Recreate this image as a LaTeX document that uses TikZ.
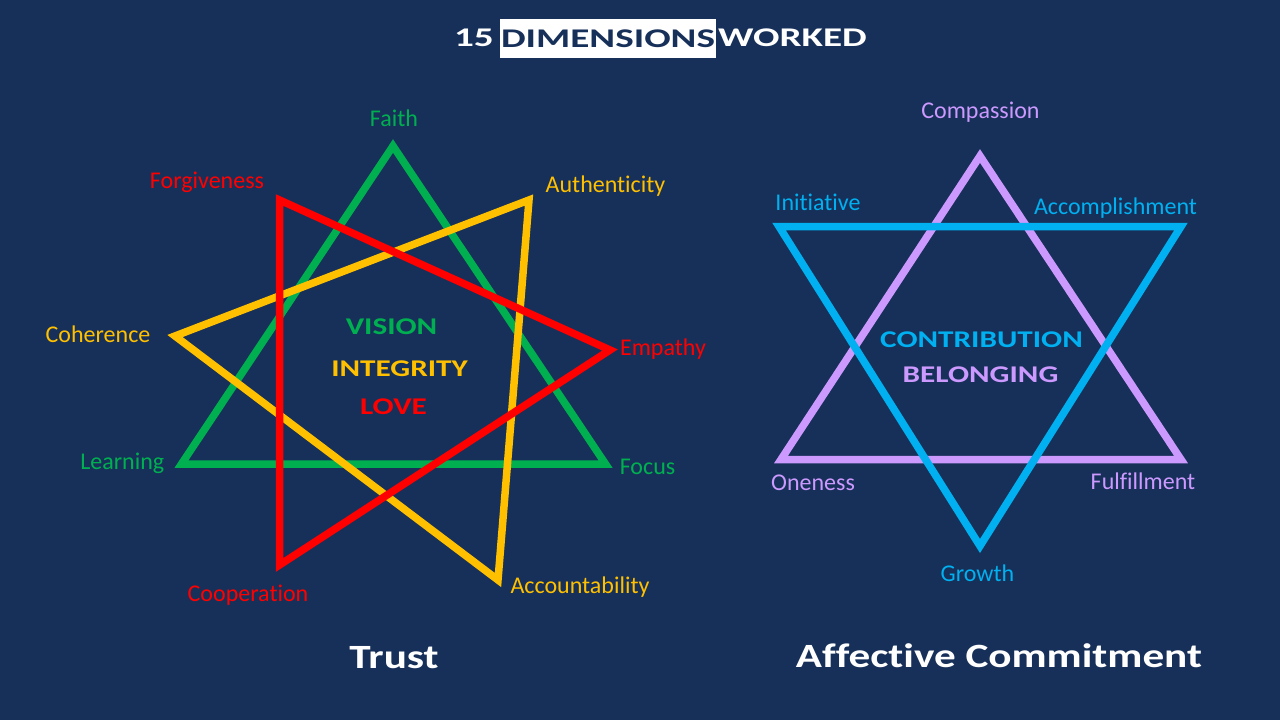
\documentclass[tikz,border=0pt]{standalone}
\usepackage{fontspec}
\setmainfont{Carlito}[Ligatures=NoCommon]
\newfontfamily\headf{Carlito}[FakeStretch=1.45,Ligatures=NoCommon]
\newfontfamily\coref{Carlito}[FakeStretch=1.30,Ligatures=NoCommon]
\newfontfamily\capf{Carlito}[FakeStretch=1.27,Ligatures=NoCommon]
\definecolor{bg}{RGB}{23,48,89}
\definecolor{cgreen}{RGB}{0,176,80}
\definecolor{cred}{RGB}{255,0,0}
\definecolor{cyellow}{RGB}{255,192,0}
\definecolor{cpurple}{RGB}{204,153,255}
\definecolor{cblue}{RGB}{0,176,240}
\begin{document}
\begin{tikzpicture}[x=1pt,y=-1pt,
  tri/.style={line width=7.5pt, line join=miter},
  lab/.style={font=\fontsize{24}{28}\selectfont, inner sep=0pt, anchor=base},
  core/.style={font=\coref\bfseries\fontsize{24}{28}\selectfont, inner sep=0pt, anchor=base},
  head/.style={font=\headf\bfseries\fontsize{27}{31}\selectfont, inner sep=0pt},
  caption/.style={font=\capf\bfseries\fontsize{34}{40}\selectfont, inner sep=0pt, anchor=base, text=white}]
\fill[bg] (0,0) rectangle (1280,720);
\useasboundingbox (0,0) rectangle (1280,720);

% title
\node[head, text=white, anchor=base east] (t15) at (494,46.7) {15};
\node[head, text=bg, fill=white, minimum width=216pt, minimum height=39pt] (tdim) at (608,38.5) {DIMENSIONS};
\node[head, text=white, anchor=base west] (twork) at (718,46.7) {WORKED};

% left star
\coordinate (G1) at (393,146);
\coordinate (G2) at (181.5,464);
\coordinate (G3) at (605.5,464);
\coordinate (R1) at (279.5,200);
\coordinate (R2) at (610,350);
\coordinate (R3) at (279.5,565);
\coordinate (Y1) at (529,200);
\coordinate (Y2) at (175,336);
\coordinate (Y3) at (498,580);
\draw[tri, cgreen] (G1) -- (G2) -- (G3) -- cycle;
\draw[tri, cyellow] (Y1) -- (Y2) -- (Y3) -- cycle;
\draw[tri, cred] (R1) -- (R2) -- (R3) -- cycle;

\node[lab, text=cgreen] (faith) at (394,126) {Faith};
\node[lab, text=cred] (forg) at (207,188) {Forgiveness};
\node[lab, text=cyellow] (auth) at (605.5,192) {Authenticity};
\node[lab, text=cyellow] (coh) at (98,342) {Coherence};
\node[lab, text=cred] (emp) at (663,355) {Empathy};
\node[lab, text=cgreen] (learn) at (122.3,469) {Learning};
\node[lab, text=cgreen] (focus) at (647.5,474) {Focus};
\node[lab, text=cred] (coop) at (248,601) {Cooperation};
\node[lab, text=cyellow] (acc) at (580,593) {Accountability};

\node[core, text=cgreen] (vision) at (391.5,334) {VISION};
\node[core, text=cyellow] (integ) at (399.5,376) {INTEGRITY};
\node[core, text=cred] (love) at (393.5,414) {LOVE};

\node[caption] (trust) at (394,668) {Trust};

% right star
\coordinate (P1) at (980,156);
\coordinate (P2) at (781,459.5);
\coordinate (P3) at (1181,459.5);
\coordinate (B1) at (779,226.5);
\coordinate (B2) at (1181,226.5);
\coordinate (B3) at (980,546);
\draw[tri, cpurple] (P1) -- (P2) -- (P3) -- cycle;
\draw[tri, cblue] (B1) -- (B2) -- (B3) -- cycle;

\node[lab, text=cpurple] (comp) at (980.5,118) {Compassion};
\node[lab, text=cblue] (init) at (818,210) {Initiative};
\node[lab, text=cblue] (accomp) at (1115.5,214) {Accomplishment};
\node[lab, text=cpurple] (one) at (813,490) {Oneness};
\node[lab, text=cpurple] (fulf) at (1143,489) {Fulfillment};
\node[lab, text=cblue] (growth) at (977.5,581) {Growth};

\node[core, text=cblue] (contrib) at (981.5,347) {CONTRIBUTION};
\node[core, text=cpurple] (belong) at (980.5,382) {BELONGING};

\node[caption] (affc) at (999,667) {Affective Commitment};
\end{tikzpicture}
\end{document}
